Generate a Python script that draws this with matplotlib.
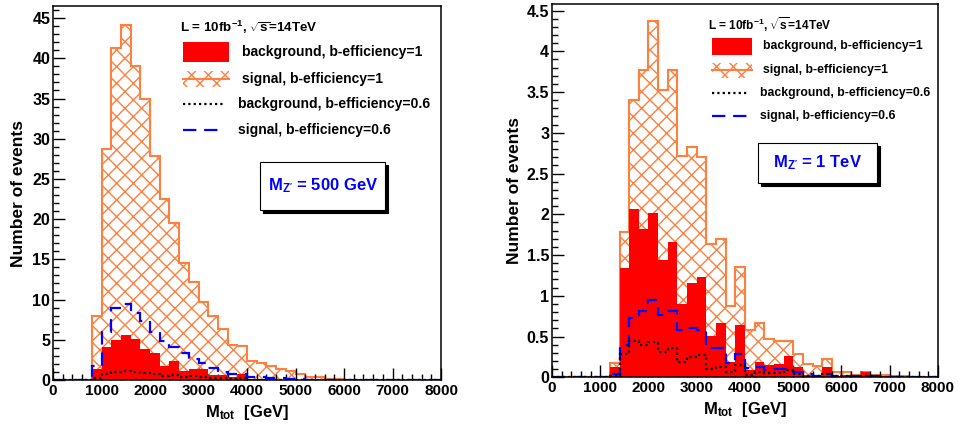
import numpy as np
import matplotlib
matplotlib.use("Agg")
import matplotlib.pyplot as plt
from matplotlib.patches import Rectangle
from matplotlib.lines import Line2D
from matplotlib.ticker import MultipleLocator, FuncFormatter

# ---------------- data ----------------
bin_edges = np.arange(0, 8001, 200)

# Left panel: M_Z' = 500 GeV
sig_500 = [0, 0, 0, 0, 8.0, 28.7, 41.3, 44.2, 39.1, 34.9, 27.9, 22.5, 19.5, 14.5, 12.2, 9.7,
           7.9, 6.4, 4.4, 4.2, 2.4, 2.1, 1.8, 1.4, 1.1, 0.75, 0.42, 0.37, 0.16, 0.08,
           0.05, 0.04, 0.03, 0.02, 0.02, 0.01, 0.01, 0, 0, 0]
bkg_500 = [0, 0, 0, 0, 1.4, 4.1, 5.0, 5.6, 5.1, 3.9, 3.4, 1.8, 2.4, 1.1, 1.4, 1.4,
           0.6, 0.6, 0.4, 0.7, 0.15, 0.1, 0.1, 0.05, 0.05, 0.03, 0.02, 0.02, 0.01, 0,
           0, 0, 0, 0, 0, 0, 0, 0, 0, 0]
sig06_500 = [0, 0, 0, 0, 1.7, 6.0, 8.9, 9.4, 8.3, 7.3, 6.0, 4.85, 4.1, 3.3, 2.6, 2.1,
             1.45, 1.0, 0.8, 0.8, 0.4, 0.35, 0.3, 0.2, 0.15, 0.1, 0.06, 0.05, 0.03, 0.02,
             0.01, 0, 0, 0, 0, 0, 0, 0, 0, 0]
bkg06_500 = [0, 0, 0, 0, 0.3, 0.8, 1.0, 1.1, 1.0, 0.9, 0.8, 0.5, 0.6, 0.4, 0.45, 0.4,
             0.2, 0.2, 0.15, 0.2, 0.05, 0.04, 0.03, 0.02, 0.02, 0.01, 0, 0, 0, 0,
             0, 0, 0, 0, 0, 0, 0, 0, 0, 0]

# Right panel: M_Z' = 1 TeV
sig_1000 = [0, 0, 0, 0, 0, 0, 0.17, 1.78, 3.40, 3.77, 4.37, 3.53, 3.77, 2.72, 2.83, 2.70,
            1.64, 1.70, 0.87, 1.35, 0.58, 0.67, 0.47, 0.45, 0.44, 0.29, 0.16, 0.14, 0.22, 0.07,
            0.07, 0.03, 0.07, 0.03, 0.03, 0.02, 0.01, 0, 0, 0]
bkg_1000 = [0, 0, 0, 0, 0, 0, 0.13, 1.34, 2.06, 1.82, 2.02, 1.44, 1.66, 0.90, 1.16, 1.23,
            0.51, 0.67, 0.19, 0.64, 0.09, 0.19, 0.15, 0.16, 0.26, 0.13, 0.03, 0.02, 0.13, 0.02,
            0.03, 0, 0.06, 0.02, 0.01, 0, 0, 0, 0, 0]
sig06_1000 = [0, 0, 0, 0, 0, 0, 0.04, 0.39, 0.73, 0.81, 0.95, 0.76, 0.81, 0.58, 0.61, 0.58,
              0.36, 0.36, 0.18, 0.29, 0.12, 0.13, 0.09, 0.10, 0.10, 0.06, 0.04, 0.02, 0.04, 0.01,
              0.01, 0.01, 0.01, 0.01, 0, 0, 0, 0, 0, 0]
bkg06_1000 = [0, 0, 0, 0, 0, 0, 0.02, 0.29, 0.45, 0.40, 0.43, 0.31, 0.36, 0.19, 0.25, 0.27,
              0.10, 0.13, 0.06, 0.15, 0.03, 0.06, 0.05, 0.05, 0.09, 0.04, 0.01, 0.01, 0.04, 0.01,
              0.01, 0, 0.02, 0.01, 0, 0, 0, 0, 0, 0]

legend_labels = ["background, b-efficiency=1", "signal, b-efficiency=1",
                 "background, b-efficiency=0.6", "signal, b-efficiency=0.6"]
header_text = r"L = 10fb$^{\mathregular{-1}}$, $\sqrt{\mathregular{s}}$=14TeV"
mass_labels = [r"M$_{\mathregular{Z'}}$ = 500 GeV", r"M$_{\mathregular{Z'}}$ = 1 TeV"]
x_label = r"M$_{\mathregular{tot}}$  [GeV]"
y_label = "Number of events"

# ---------------- style ----------------
plt.rcParams['font.family'] = ['Liberation Sans', 'DejaVu Sans']
plt.rcParams['font.weight'] = 'bold'
plt.rcParams['mathtext.fontset'] = 'custom'
plt.rcParams['mathtext.rm'] = 'Liberation Sans:bold'
plt.rcParams['mathtext.it'] = 'Liberation Sans:bold'
plt.rcParams['mathtext.bf'] = 'Liberation Sans:bold'
plt.rcParams['hatch.linewidth'] = 1.0

ORANGE = '#ff7f3f'
plt.rcParams['hatch.color'] = ORANGE

fig = plt.figure(figsize=(9.59, 4.30), dpi=100)
axL = fig.add_axes([0.0553, 0.1163, 0.4046, 0.8697])
axR = fig.add_axes([0.5756, 0.1226, 0.4025, 0.8681])


def draw_hists(ax, sig, bkg, sig06, bkg06):
    ax.stairs(sig, bin_edges, fill=True, facecolor='none', edgecolor=ORANGE,
              hatch='xx', linewidth=0, zorder=1)
    ax.stairs(sig, bin_edges, color=ORANGE, linewidth=1.5, zorder=1.1)
    ax.stairs(bkg, bin_edges, fill=True, color='#ff0000', linewidth=0, zorder=2)
    ax.stairs(sig06, bin_edges, color='#0000ff', linewidth=1.6,
              linestyle=(0, (6, 3.5)), zorder=3)
    ax.stairs(bkg06, bin_edges, color='black', linewidth=1.6,
              linestyle=(0, (1, 1.4)), zorder=3.1)


def style_axes(ax, ymax, ymajor, yminor):
    ax.set_xlim(0, 8000)
    ax.set_ylim(0, ymax)
    ax.xaxis.set_major_locator(MultipleLocator(1000))
    ax.xaxis.set_minor_locator(MultipleLocator(200))
    ax.yaxis.set_major_locator(MultipleLocator(ymajor))
    ax.yaxis.set_minor_locator(MultipleLocator(yminor))
    ax.yaxis.set_major_formatter(FuncFormatter(lambda v, p: '%g' % round(v, 3)))
    ax.xaxis.set_major_formatter(FuncFormatter(lambda v, p: '%d' % v))
    ax.tick_params(axis='both', which='both', direction='in', top=False, right=False)
    ax.tick_params(axis='both', which='major', length=8.5, width=1)
    ax.tick_params(axis='both', which='minor', length=4.3, width=1)
    ax.tick_params(axis='x', labelsize=11, pad=3)
    ax.tick_params(axis='y', labelsize=11.5, pad=2)
    for sp in ax.spines.values():
        sp.set_linewidth(1.1)
        sp.set_zorder(10)
    ax.set_xlabel(x_label, fontsize=12, fontweight='bold')
    ax.set_ylabel(y_label, fontsize=12.5, fontweight='bold')
    ax.xaxis.set_label_coords(0.5, -0.086)
    ax.xaxis.label.set_va('center')
    ax.yaxis.label.set_va('center')


def draw_legend(ax, hx0, hx1, rows, box_h, hatch_h, tx, fs, hdr_xy, hfs):
    tr = ax.transAxes
    # background b-eff = 1
    y = rows[0]
    ax.add_patch(Rectangle((hx0, y - box_h / 2), hx1 - hx0, box_h, transform=tr,
                           facecolor='#ff0000', edgecolor='none', zorder=20))
    # signal b-eff = 1
    y = rows[1]
    ax.add_patch(Rectangle((hx0, y - hatch_h / 2), hx1 - hx0, hatch_h, transform=tr,
                           facecolor='none', edgecolor=ORANGE, hatch='xx',
                           linewidth=0, zorder=20))
    ax.add_line(Line2D([hx0, hx1], [y, y], transform=tr, color=ORANGE,
                       linewidth=1.5, zorder=21))
    # background b-eff = 0.6
    y = rows[2]
    ax.add_line(Line2D([hx0, hx1 - 0.01], [y, y], transform=tr, color='black',
                       linewidth=1.6, linestyle=(0, (1, 1.4)), zorder=21))
    # signal b-eff = 0.6
    y = rows[3]
    ax.add_line(Line2D([hx0, hx1 - 0.01], [y, y], transform=tr, color='#0000ff',
                       linewidth=1.6, linestyle=(0, (6, 3.5)), zorder=21))
    for i, lab in enumerate(legend_labels):
        ax.text(tx[i], rows[i], lab, transform=tr, fontsize=fs, fontweight='bold',
                ha='left', va='center', zorder=22)
    ax.text(hdr_xy[0], hdr_xy[1], header_text, transform=tr, fontsize=hfs,
            fontweight='bold', ha='left', va='center', zorder=22)


def draw_mass_box(ax, x0, x1, y0, y1, label, fs):
    tr = ax.transAxes
    dx, dy = 0.008, 0.008
    ax.add_patch(Rectangle((x0 + dx, y0 - dy), x1 - x0, y1 - y0, transform=tr,
                           facecolor='black', edgecolor='black', linewidth=0.8, zorder=20))
    ax.add_patch(Rectangle((x0, y0), x1 - x0, y1 - y0, transform=tr,
                           facecolor='white', edgecolor='black', linewidth=0.8, zorder=21))
    ax.text((x0 + x1) / 2, (y0 + y1) / 2, label, transform=tr, fontsize=fs,
            fontweight='bold', color='#0000ff', ha='center', va='center', zorder=22)


# Left panel
draw_hists(axL, sig_500, bkg_500, sig06_500, bkg06_500)
style_axes(axL, 46.5, 5, 1)
axL.yaxis.set_label_coords(-0.090, 0.5)
draw_legend(axL, 0.335, 0.454, [0.877, 0.805, 0.738, 0.668], 0.051, 0.043,
            [0.487, 0.487, 0.477, 0.477], 10, (0.327, 0.944), 9.6)
draw_mass_box(axL, 0.534, 0.856, 0.455, 0.583, mass_labels[0], 12)

# Right panel
draw_hists(axR, sig_1000, bkg_1000, sig06_1000, bkg06_1000)
style_axes(axR, 4.58, 0.5, 0.1)
axR.yaxis.set_label_coords(-0.096, 0.5)
draw_legend(axR, 0.415, 0.518, [0.887, 0.823, 0.762, 0.700], 0.046, 0.040,
            [0.547, 0.547, 0.539, 0.539], 8.8, (0.404, 0.946), 8.6)
draw_mass_box(axR, 0.534, 0.842, 0.521, 0.628, mass_labels[1], 12)

fig.savefig("out.png", dpi=100)
